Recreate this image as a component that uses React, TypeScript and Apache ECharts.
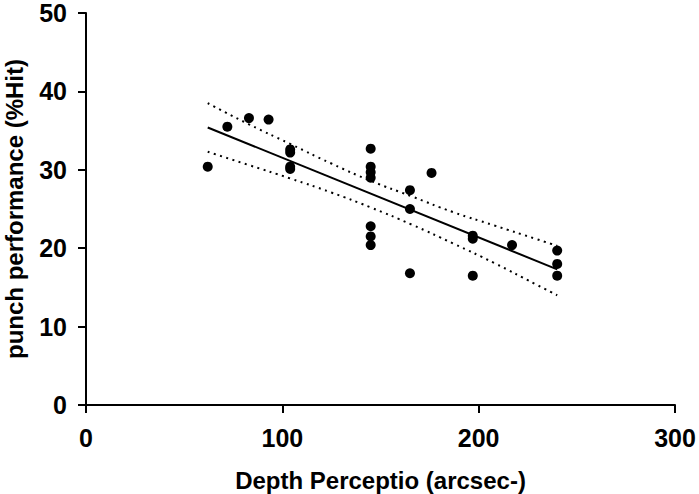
import React, { useEffect, useRef } from "react";
import * as echarts from "echarts";

// Observed data points (Depth Perception vs punch performance)
const depth = [62, 72, 83, 93, 104, 104, 104, 104, 145, 145, 145, 145, 145, 145, 145, 165, 165, 165, 176, 197, 197, 197, 217, 240, 240, 240];
const punch = [30.4, 35.5, 36.6, 36.4, 32.6, 32.2, 30.4, 30.1, 32.7, 30.4, 29.7, 29.0, 22.8, 21.5, 20.4, 27.4, 25.0, 16.8, 29.6, 21.6, 21.2, 16.5, 20.4, 19.7, 18.0, 16.5];

// Regression line
const fitX = [62, 240];
const fitY = [35.4, 17.3];

// 95% confidence band
const bandX = [62, 83, 104, 125, 145, 166, 187, 208, 229, 240];
const bandUpper = [38.5, 35.8, 33.3, 30.8, 28.6, 26.6, 24.6, 22.9, 21.2, 20.3];
const bandLower = [32.3, 30.6, 28.9, 27.1, 25.2, 23.0, 20.6, 18.1, 15.4, 14.0];

const xTicks = [0, 100, 200, 300];
const yTicks = [0, 10, 20, 30, 40, 50];

const FONT = "'Liberation Sans', Arial, Helvetica, sans-serif";

export default function App() {
  const ref = useRef<HTMLDivElement>(null);
  useEffect(() => {
    if (!ref.current) return;
    const chart = echarts.init(ref.current, null, { renderer: "svg" });
    const axisLine = { show: true, lineStyle: { color: "#000", width: 2 } };
    const axisTick = { show: true, inside: false, length: 8, lineStyle: { color: "#000", width: 2 } };
    chart.setOption({
      animation: false,
      backgroundColor: "#fff",
      grid: { left: 86, right: 24, top: 13, bottom: 89, containLabel: false, outerBoundsMode: "none" },
      xAxis: {
        type: "value",
        min: xTicks[0],
        max: xTicks[xTicks.length - 1],
        interval: 100,
        axisLine,
        axisTick,
        splitLine: { show: false },
        axisLabel: { color: "#000", fontFamily: FONT, fontWeight: "bold", fontSize: 25, margin: 20 },
        name: "Depth Perceptio (arcsec-)",
        nameLocation: "middle",
        nameGap: 63,
        nameTextStyle: { color: "#000", fontFamily: FONT, fontWeight: "bold", fontSize: 24 },
      },
      yAxis: {
        type: "value",
        min: yTicks[0],
        max: yTicks[yTicks.length - 1],
        interval: 10,
        axisLine,
        axisTick,
        splitLine: { show: false },
        axisLabel: { color: "#000", fontFamily: FONT, fontWeight: "bold", fontSize: 25, margin: 19 },
        name: "punch performance (%Hit)",
        nameLocation: "middle",
        nameGap: 60,
        nameTextStyle: { color: "#000", fontFamily: FONT, fontWeight: "bold", fontSize: 24 },
      },
      series: [
        {
          type: "line",
          data: bandX.map((x, i) => [x, bandUpper[i]]),
          showSymbol: false,
          smooth: true,
          lineStyle: { color: "#000", width: 2, type: [2, 4.5] },
          silent: true,
        },
        {
          type: "line",
          data: bandX.map((x, i) => [x, bandLower[i]]),
          showSymbol: false,
          smooth: true,
          lineStyle: { color: "#000", width: 2, type: [2, 4.5] },
          silent: true,
        },
        {
          type: "line",
          data: fitX.map((x, i) => [x, fitY[i]]),
          showSymbol: false,
          lineStyle: { color: "#000", width: 2 },
          silent: true,
        },
        {
          type: "scatter",
          data: depth.map((x, i) => [x, punch[i]]),
          symbol: "circle",
          symbolSize: 10,
          itemStyle: { color: "#000", opacity: 1 },
        },
      ],
    });
    return () => chart.dispose();
  }, []);
  return <div ref={ref} style={{ width: 699, height: 494, position: "absolute", left: 0, top: 0 }} />;
}
